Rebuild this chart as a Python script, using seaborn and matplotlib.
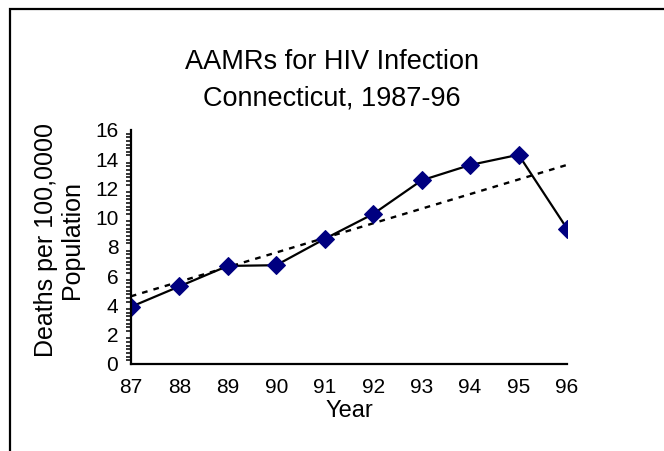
import numpy as np
import pandas as pd
import seaborn as sns
import matplotlib.pyplot as plt
from matplotlib.patches import Rectangle
from matplotlib.ticker import MultipleLocator

# 데이터
years = ['87', '88', '89', '90', '91', '92', '93', '94', '95', '96']
rates = [3.9, 5.3, 6.7, 6.75, 8.55, 10.25, 12.55, 13.6, 14.3, 9.25]

df = pd.DataFrame({'idx': np.arange(len(years)), 'rate': rates})

sns.set_style('white')
plt.rcParams['font.family'] = ['Liberation Sans', 'DejaVu Sans']
plt.rcParams['text.color'] = 'black'
plt.rcParams['axes.labelcolor'] = 'black'

fig = plt.figure(figsize=(6.64, 4.51), dpi=100)
ax = fig.add_axes([0.197, 0.193, 0.657, 0.519])

# 추세선 (선형회귀, 점선)
sns.regplot(x='idx', y='rate', data=df, ax=ax, scatter=False, ci=None,
            line_kws={'color': 'black', 'lw': 1.7, 'linestyle': (0, (2.4, 2.6))})

# 실제 값 꺾은선
sns.lineplot(x='idx', y='rate', data=df, ax=ax, color='black', lw=1.6,
             marker='D', markersize=9, markerfacecolor='#000080',
             markeredgecolor='#000080')

ax.set_xlim(0, 9)
ax.set_ylim(0, 16)
ax.set_xticks(df['idx'])
ax.set_xticklabels(years)
ax.yaxis.set_major_locator(MultipleLocator(2))
ax.yaxis.set_minor_locator(MultipleLocator(0.25))

for s in ['top', 'right']:
    ax.spines[s].set_visible(False)
for s in ['left', 'bottom']:
    ax.spines[s].set_linewidth(1.6)
    ax.spines[s].set_color('black')

ax.tick_params(axis='both', which='major', direction='out', length=6, width=1.6,
               labelsize=15, colors='black', pad=3)
ax.tick_params(axis='y', which='minor', direction='out', length=3.5, width=1.1,
               left=True, colors='black')
ax.tick_params(axis='x', which='major', pad=4)

ax.set_xlabel('Year', fontsize=17, labelpad=2)
ax.set_ylabel('Deaths per 100,0000\nPopulation', fontsize=18, linespacing=1.1)
ax.yaxis.set_label_coords(-0.108, 0.53)

fig.text(0.5, 0.862, 'AAMRs for HIV Infection', ha='center', va='center', fontsize=19.5)
fig.text(0.5, 0.782, 'Connecticut, 1987-96', ha='center', va='center', fontsize=19.5)

# 바깥 테두리
fig.add_artist(Rectangle((10 / 664, -0.1), 1.1, 1.1 - 9 / 451, transform=fig.transFigure,
                         fill=False, edgecolor='black', lw=1.6, clip_on=False))

fig.savefig('out.png', dpi=100)
